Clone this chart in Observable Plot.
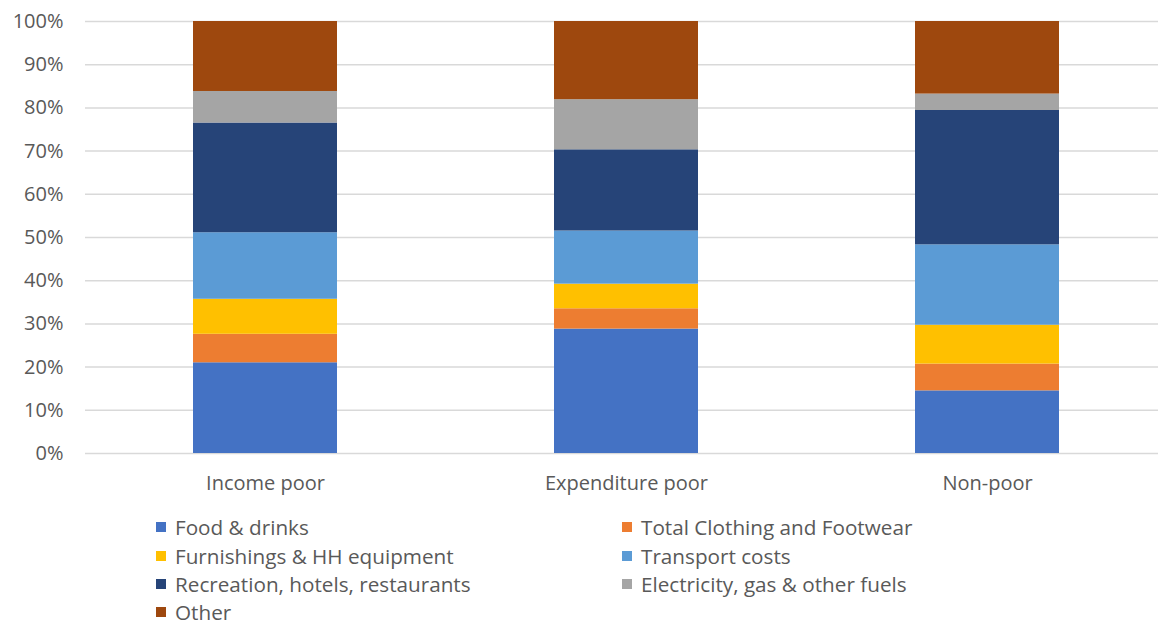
<!DOCTYPE html>
<html>
<head>
<meta charset="utf-8">
<script src="https://cdn.jsdelivr.net/npm/d3@7"></script>
<script src="https://cdn.jsdelivr.net/npm/@observablehq/plot@0.6"></script>
<style>
  body { margin: 0; background: #fff; font-family: "Open Sans", sans-serif; }
  #chart { position: relative; width: 1158px; height: 626px; overflow: hidden; }
  #legend { position: absolute; left: 0; top: 0; width: 1158px; height: 626px; pointer-events: none; }
  .item { position: absolute; display: flex; align-items: center; font-size: 20.7px; line-height: 20px; height: 20px; color: #595959; white-space: nowrap; }
  .sw { width: 10px; height: 10px; margin-right: 9px; flex: none; }
</style>
</head>
<body>
<div id="chart"></div>
<script>
const groups = ["Income poor", "Expenditure poor", "Non-poor"];
const categories = [
  "Food & drinks",
  "Total Clothing and Footwear",
  "Furnishings & HH equipment",
  "Transport costs",
  "Recreation, hotels, restaurants",
  "Electricity, gas & other fuels",
  "Other"
];
const colors = ["#4472C4", "#ED7D31", "#FFC000", "#5B9BD5", "#264478", "#A5A5A5", "#9E480E"];
// shares (%) per category, in order of groups
const foodDrinks   = [21.0, 28.8, 14.5];
const clothing     = [6.6, 4.7, 6.2];
const furnishings  = [8.1, 5.7, 9.0];
const transport    = [15.4, 12.3, 18.6];
const recreation   = [25.4, 18.8, 31.1];
const electricity  = [7.3, 11.6, 3.8];
const other        = [16.2, 18.1, 16.8];
const yTicks = [0, 10, 20, 30, 40, 50, 60, 70, 80, 90, 100];

const seriesValues = [foodDrinks, clothing, furnishings, transport, recreation, electricity, other];
const data = [];
categories.forEach((c, i) => groups.forEach((g, j) => data.push({group: g, category: c, value: seriesValues[i][j]})));

const W = 1158, H = 500;
const plot = Plot.plot({
  width: W,
  height: H,
  marginLeft: 85,
  marginRight: 0,
  marginTop: 21,
  marginBottom: 47,
  style: {fontFamily: "'Open Sans', sans-serif", fontSize: "20px", color: "#595959", background: "#fff", overflow: "visible"},
  x: {domain: groups, range: [85, 1168], paddingInner: 0.6, paddingOuter: 0.3, label: null},
  y: {domain: [0, 100], label: null},
  color: {domain: categories, range: colors},
  marks: [
    Plot.gridY(yTicks, {stroke: "#d9d9d9", strokeOpacity: 1, strokeWidth: 1.5}),
    Plot.barY(data, Plot.stackY({x: "group", y: "value", fill: "category", order: categories})),
    Plot.axisY({ticks: yTicks, tickSize: 0, tickPadding: 22, tickFormat: d => d + "%", fill: "#595959", fontSize: 20}),
    Plot.axisX({tickSize: 0, tickPadding: 22, fill: "#595959", fontSize: 20, label: null})
  ]
});
document.getElementById("chart").appendChild(plot);

const legend = document.createElement("div");
legend.id = "legend";
const colX = [156, 622];
const rowY = [527, 555.5, 584, 611.5];
categories.forEach((c, i) => {
  const it = document.createElement("div");
  it.className = "item";
  it.style.left = colX[i % 2] + "px";
  it.style.top = (rowY[Math.floor(i / 2)] - 10) + "px";
  const sw = document.createElement("span");
  sw.className = "sw";
  sw.style.background = colors[i];
  const tx = document.createElement("span");
  tx.textContent = c;
  it.appendChild(sw);
  it.appendChild(tx);
  legend.appendChild(it);
});
document.getElementById("chart").appendChild(legend);
</script>
</body>
</html>
